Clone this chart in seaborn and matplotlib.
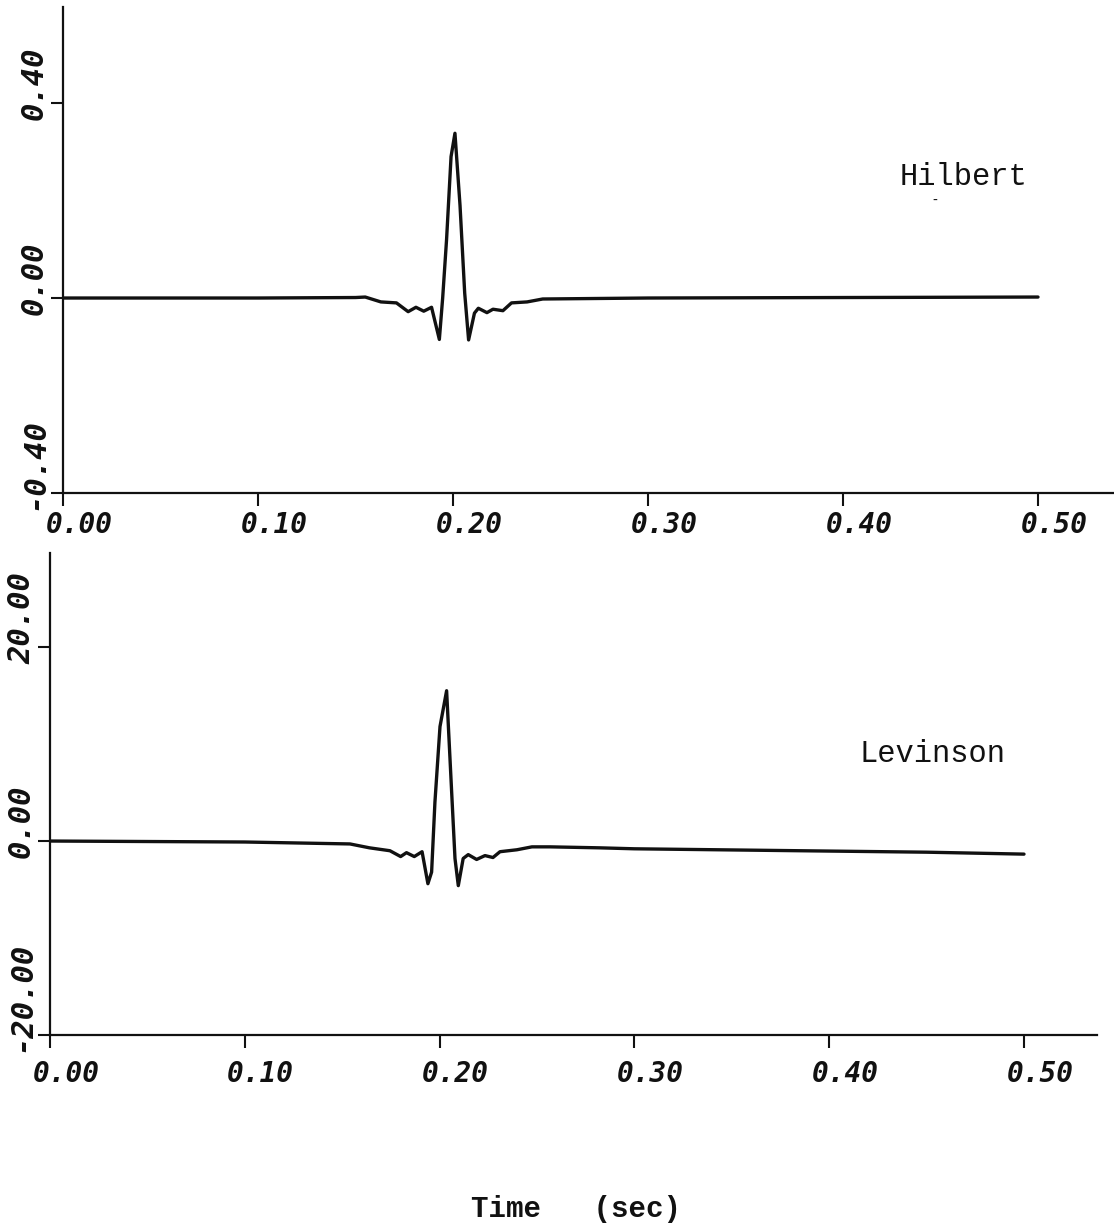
import matplotlib
matplotlib.use("Agg")
import matplotlib.pyplot as plt
import seaborn as sns

# ---------------- data ----------------
hilbert_t = [0.000, 0.100, 0.150, 0.155, 0.163, 0.171, 0.177, 0.181, 0.185,
             0.189, 0.193, 0.1947, 0.1967, 0.199, 0.201, 0.2036, 0.206, 0.208,
             0.211, 0.213, 0.2174, 0.2205, 0.2256, 0.230, 0.238, 0.246,
             0.300, 0.400, 0.500]
hilbert_v = [0.000, 0.000, 0.001, 0.002, -0.008, -0.010, -0.028, -0.019, -0.027,
             -0.019, -0.085, 0.000, 0.120, 0.290, 0.338, 0.190, 0.010, -0.086,
             -0.031, -0.021, -0.030, -0.023, -0.026, -0.010, -0.008, -0.002,
             0.000, 0.001, 0.002]

levinson_t = [0.000, 0.100, 0.154, 0.164, 0.1745, 0.180, 0.183, 0.187, 0.191,
              0.194, 0.1959, 0.1976, 0.2002, 0.2036, 0.2062, 0.2079, 0.2096,
              0.2121, 0.2147, 0.219, 0.2233, 0.2274, 0.231, 0.2397, 0.2474,
              0.2567, 0.282, 0.300, 0.385, 0.450, 0.500]
levinson_v = [0.0, -0.1, -0.3, -0.7, -1.0, -1.6, -1.2, -1.6, -1.1,
              -4.4, -3.2, 4.0, 11.8, 15.5, 5.0, -1.8, -4.6,
              -1.8, -1.4, -1.9, -1.5, -1.7, -1.1, -0.9, -0.6,
              -0.6, -0.7, -0.8, -1.0, -1.15, -1.35]

x_ticks = [0.0, 0.1, 0.2, 0.3, 0.4, 0.5]
x_ticklabels = ["0.00", "0.10", "0.20", "0.30", "0.40", "0.50"]
top_yticks = [-0.4, 0.0, 0.4]
top_yticklabels = ["-0.40", "0.00", "0.40"]
bot_yticks = [-20.0, 0.0, 20.0]
bot_yticklabels = ["-20.00", "0.00", "20.00"]

panel_names = ["Hilbert", "Levinson"]
x_label = "Time   (sec)"

# ---------------- style ----------------
sns.set_theme(style="white")
plt.rcParams["font.family"] = ["DejaVu Sans Mono", "DejaVu Sans"]

W, H = 1114, 1228
fig = plt.figure(figsize=(W / 100, H / 100), dpi=100)

ax1 = fig.add_axes([63 / W, 1 - 493 / H, (W - 63) / W, (493 - 7) / H])
ax2 = fig.add_axes([50 / W, 1 - 1035 / H, 1047 / W, 482 / H])

ink = "#111111"
tick_font = dict(family="DejaVu Sans Mono", style="oblique", weight="bold")


def style_axis(ax, xmax, ylim, yticks, ylabels, xlab_dy):
    ax.set_xlim(0, xmax)
    ax.set_ylim(*ylim)
    for s in ("top", "right"):
        ax.spines[s].set_visible(False)
    for s in ("left", "bottom"):
        ax.spines[s].set_linewidth(1.6)
        ax.spines[s].set_color(ink)
    ax.set_xticks(x_ticks)
    ax.set_yticks(yticks)
    ax.set_xticklabels([])
    ax.set_yticklabels([])
    ax.tick_params(axis="both", direction="out", length=9, width=1.5,
                   color=ink, left=True, bottom=True)
    ax.set_xlabel("")
    ax.set_ylabel("")
    for t, lab in zip(x_ticks, x_ticklabels):
        ax.annotate(lab, xy=(t, 0), xycoords=("data", "axes fraction"),
                    xytext=(11.5, xlab_dy), textcoords="offset points",
                    ha="center", va="top", fontsize=20, color=ink,
                    annotation_clip=False, **tick_font)
    for v, lab in zip(yticks, ylabels):
        ax.annotate(lab, xy=(0, v), xycoords=("axes fraction", "data"),
                    xytext=(-10, -12), textcoords="offset points",
                    rotation=90, ha="right", va="bottom", fontsize=22,
                    color=ink, annotation_clip=False, **tick_font)


sns.lineplot(x=hilbert_t, y=hilbert_v, ax=ax1, color=ink, linewidth=2.4,
             estimator=None, sort=False, legend=False)
sns.lineplot(x=levinson_t, y=levinson_v, ax=ax2, color=ink, linewidth=2.4,
             estimator=None, sort=False, legend=False)

style_axis(ax1, (W - 63) / 1950, (-0.4, 0.597), top_yticks, top_yticklabels, -13)
style_axis(ax2, 1047 / 1948, (-20.0, 29.7), bot_yticks, bot_yticklabels, -18)

ax1.text(0.462, 0.232, panel_names[0], ha="center", va="baseline",
         fontsize=22, family="Liberation Mono", color=ink)
ax1.text(0.447, 0.200, "-", ha="center", va="center",
         fontsize=10, family="DejaVu Sans", color=ink)
ax2.text(0.453, 8.1, panel_names[1], ha="center", va="baseline",
         fontsize=22, family="Liberation Mono", color=ink)

fig.text(576 / W, 1 - 1217 / H, x_label, ha="center", va="baseline",
         fontsize=21, family="Liberation Mono", weight="bold", color=ink)

fig.savefig("out.png", dpi=100, facecolor="white")
